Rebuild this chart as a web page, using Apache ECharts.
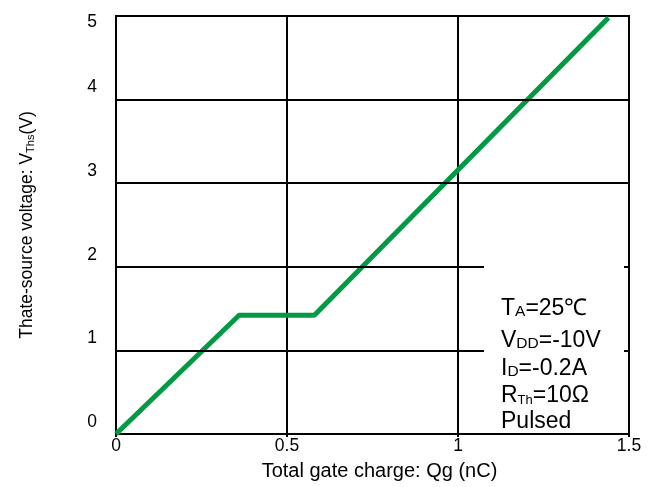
<!DOCTYPE html>
<html>
<head>
<meta charset="utf-8">
<script src="https://cdn.jsdelivr.net/npm/echarts@6/dist/echarts.min.js"></script>
<style>
  html, body { margin: 0; padding: 0; background: #fff; }
  #main { width: 658px; height: 487px; }
</style>
</head>
<body>
<div id="main"></div>
<script>
// gate charge curve (breakpoints)
const chargeQg = [0, 0.36, 0.58, 1.44];
const gateVoltage = [0, 1.42, 1.42, 4.98];

const xTickLabels = ['0', '0.5', '1', '1.5'];
const yTickLabels = ['0', '1', '2', '3', '4', '5'];

// horizontal grid lines: level and where they stop
const gridLevels = [1, 2, 3, 4];
const gridEnds = [1.076, 1.076, 1.5, 1.5];

const conditionLines = [
  '{m|T}{s|A}{m|=25℃}',
  '{m|V}{s|DD}{m|=-10V}',
  '{m|I}{s|D}{m|=-0.2A}',
  '{m|R}{t|Th}{m|=10Ω}',
  '{m|Pulsed}'
];
const conditionTops = [297, 329, 357, 384, 410];

const font = '"Liberation Sans", Arial, sans-serif';

const chart = echarts.init(document.getElementById('main'));

const option = {
  backgroundColor: '#fff',
  animation: false,
  grid: {
    left: 116, right: 29, top: 16, bottom: 53,
    show: true, borderColor: '#000', borderWidth: 2,
    outerBoundsMode: 'none'
  },
  xAxis: {
    type: 'value',
    min: 0, max: 1.5, interval: 0.5,
    name: 'Total gate charge: Qg (nC)',
    nameLocation: 'middle',
    nameGap: 27,
    nameTextStyle: { color: '#000', fontSize: 20, fontFamily: font, padding: [0, 0, 0, 14] },
    axisLine: { show: true, lineStyle: { color: '#000', width: 2 } },
    axisTick: { show: true, length: 3, lineStyle: { color: '#000', width: 2 } },
    axisLabel: {
      color: '#000', fontSize: 17.5, fontFamily: font, margin: 3,
      formatter: (v) => xTickLabels[Math.round(v / 0.5)]
    },
    splitLine: { show: true, lineStyle: { color: '#000', width: 2 } }
  },
  yAxis: [
    {
      type: 'value',
      min: 0, max: 5, interval: 1,
      name: '{m|Thate-source voltage: V}{s|Ths}{m|(V)}',
      nameLocation: 'middle',
      nameGap: 80,
      nameRotate: 90,
      nameTextStyle: {
        color: '#000', fontFamily: font,
        rich: {
          m: { fontSize: 17.5, fontFamily: font, color: '#000' },
          s: { fontSize: 11, fontFamily: font, color: '#000', verticalAlign: 'bottom' }
        }
      },
      axisLine: { show: true, lineStyle: { color: '#000', width: 2 } },
      axisTick: { show: false },
      axisLabel: {
        margin: 19,
        formatter: (v) => (v === 5 ? '{t|' : '{a|') + yTickLabels[v] + '}',
        rich: {
          a: { color: '#000', fontSize: 17.5, fontFamily: font, padding: [0, 0, 24, 0] },
          t: { color: '#000', fontSize: 17.5, fontFamily: font, padding: [12, 0, 0, 0] }
        }
      },
      splitLine: { show: false }
    },
    {
      type: 'value',
      position: 'right',
      min: 0, max: 5, interval: 1,
      axisLine: { show: false },
      axisTick: { show: true, inside: true, length: 5, lineStyle: { color: '#000', width: 2 } },
      axisLabel: { show: false },
      splitLine: { show: false }
    }
  ],
  series: [
    {
      type: 'line',
      data: [],
      z: 1,
      markLine: {
        silent: true,
        symbol: 'none',
        label: { show: false },
        lineStyle: { color: '#000', width: 2, type: 'solid' },
        data: gridLevels.map((y, i) => [{ coord: [0, y] }, { coord: [gridEnds[i], y] }])
      }
    },
    {
      type: 'line',
      z: 3,
      showSymbol: false,
      symbol: 'none',
      lineStyle: { color: '#009944', width: 5 },
      data: chargeQg.map((q, i) => [q, gateVoltage[i]])
    }
  ],
  graphic: conditionLines.map((txt, i) => ({
    type: 'text',
    left: 501,
    top: conditionTops[i],
    z: 10,
    style: {
      text: txt,
      fill: '#000',
      rich: {
        m: { fontSize: 23, fontFamily: font, fill: '#000', verticalAlign: 'bottom' },
        s: { fontSize: 15.5, fontFamily: font, fill: '#000', verticalAlign: 'bottom' },
        t: { fontSize: 13, fontFamily: font, fill: '#000', verticalAlign: 'bottom' }
      }
    }
  }))
};

chart.setOption(option);
</script>
</body>
</html>
